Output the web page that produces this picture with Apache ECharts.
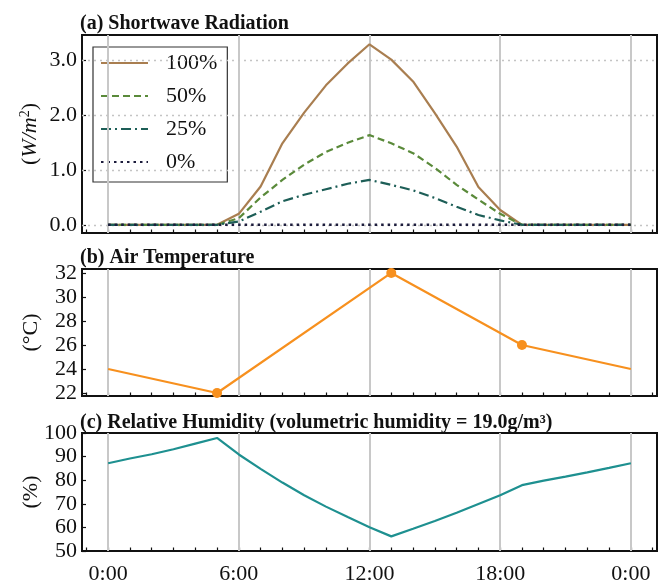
<!DOCTYPE html>
<html>
<head>
<meta charset="utf-8">
<script src="https://cdn.jsdelivr.net/npm/echarts@6/dist/echarts.min.js"></script>
<style>
  html, body { margin: 0; padding: 0; background: #fff; }
  #chart { width: 659px; height: 585px; }
</style>
</head>
<body>
<div id="chart"></div>
<script>
// 数据
const hours = [0, 1, 2, 3, 4, 5, 6, 7, 8, 9, 10, 11, 12, 13, 14, 15, 16, 17, 18, 19, 20, 21, 22, 23, 24];
const rad100 = [0, 0, 0, 0, 0, 0, 0.2, 0.7, 1.49, 2.05, 2.55, 2.95, 3.3, 3.02, 2.62, 2.04, 1.43, 0.69, 0.27, 0, 0, 0, 0, 0, 0];
const rad50 = [0, 0, 0, 0, 0, 0, 0.12, 0.5, 0.82, 1.1, 1.33, 1.5, 1.64, 1.49, 1.31, 1.04, 0.73, 0.46, 0.2, 0, 0, 0, 0, 0, 0];
const rad25 = [0, 0, 0, 0, 0, 0, 0.06, 0.24, 0.43, 0.55, 0.65, 0.75, 0.82, 0.73, 0.63, 0.49, 0.33, 0.18, 0.08, 0, 0, 0, 0, 0, 0];
const rad0 = [0, 0, 0, 0, 0, 0, 0, 0, 0, 0, 0, 0, 0, 0, 0, 0, 0, 0, 0, 0, 0, 0, 0, 0, 0];
const tempHours = [0, 5, 13, 19, 24];
const tempValues = [24, 22, 32, 26, 24];
const rhValues = [87.2, 89.2, 91.0, 93.1, 95.5, 97.9, 90.9, 84.8, 79.0, 73.6, 68.8, 64.4, 60.1, 56.2, 59.4, 62.7, 66.2, 69.9, 73.6, 77.9, 79.8, 81.5, 83.3, 85.2, 87.2];

const xTickValues = [0, 6, 12, 18, 24];
const xTickLabels = ['0:00', '6:00', '12:00', '18:00', '0:00'];
const xMinorTicks = [-1, 0, 1, 2, 3, 4, 5, 6, 7, 8, 9, 10, 11, 12, 13, 14, 15, 16, 17, 18, 19, 20, 21, 22, 23, 24, 25];
const radTicks = [0, 1, 2, 3];
const tempTicks = [22, 24, 26, 28, 30, 32];
const rhTicks = [50, 60, 70, 80, 90, 100];

const serif = "'Liberation Serif', 'DejaVu Serif', serif";
const black = '#111';

const pairs = (xs, ys) => xs.map((x, i) => [x, ys[i]]);

const chart = echarts.init(document.getElementById('chart'));

const grids = [
    { left: 82, top: 35, width: 575, height: 198 },
    { left: 82, top: 269, width: 575, height: 127 },
    { left: 82, top: 433, width: 575, height: 131 }
].map(g => Object.assign(g, { show: true, borderColor: black, borderWidth: 2, backgroundColor: '#fff' }));

const xAxes = [];
[0, 1, 2].forEach(i => {
    // 主刻度
    xAxes.push({
        gridIndex: i, type: 'value', position: 'bottom', min: -1.2, max: 25.2,
        axisLine: { show: false, onZero: false }, splitLine: { show: false },
        axisTick: { show: true, inside: true, length: 6, customValues: xTickValues, lineStyle: { color: black, width: 1.5 } },
        axisLabel: {
            show: i === 2, customValues: xTickValues, margin: 12,
            fontFamily: serif, fontSize: 22, color: black,
            formatter: v => xTickLabels[xTickValues.indexOf(v)]
        }
    });
    // 次刻度
    xAxes.push({
        gridIndex: i, type: 'value', position: 'bottom', min: -1.2, max: 25.2,
        axisLine: { show: false, onZero: false }, splitLine: { show: false },
        axisTick: { show: true, inside: true, length: 3.5, customValues: xMinorTicks, lineStyle: { color: black, width: 1.2 } },
        axisLabel: { show: false }
    });
});

const yName = (name, gap) => ({
    name: name, nameLocation: 'middle', nameRotate: 90, nameGap: gap, nameMoveOverlap: false,
    nameTextStyle: {
        fontFamily: serif, fontSize: 22, color: black,
        rich: {
            i: { fontFamily: serif, fontSize: 22, fontStyle: 'italic', color: black },
            s: { fontFamily: serif, fontSize: 14, color: black, padding: [0, 0, 10, 0] }
        }
    }
});

const yCommon = (ticks, fmt) => ({
    type: 'value', position: 'left', axisLine: { show: false, onZero: false }, splitLine: { show: false },
    axisTick: { show: true, inside: true, length: 4, customValues: ticks, lineStyle: { color: black, width: 1.2 } },
    axisLabel: { customValues: ticks, margin: 5, fontFamily: serif, fontSize: 22, color: black, formatter: fmt }
});

const yAxes = [
    Object.assign({ gridIndex: 0, min: -0.15, max: 3.47 }, yCommon(radTicks, v => v.toFixed(1)), yName('({i|W/m}{s|2})', 40)),
    Object.assign({ gridIndex: 1, min: 21.75, max: 32.33 }, yCommon(tempTicks, v => String(v)), yName('(°C)', 40)),
    Object.assign({ gridIndex: 2, min: 50, max: 100 }, yCommon(rhTicks, v => String(v)), yName('(%)', 40))
];

// 网格线（竖线 + 上图虚点横线）
const vLines = i => ({
    type: 'line', xAxisIndex: i * 2, yAxisIndex: i, data: [], silent: true,
    markLine: {
        silent: true, symbol: 'none', animation: false, label: { show: false },
        lineStyle: { color: '#c8c8c8', width: 2, type: 'solid' },
        data: xTickValues.map(v => ({ xAxis: v }))
    }
});

const series = [
    vLines(0), vLines(1), vLines(2),
    {
        type: 'line', xAxisIndex: 0, yAxisIndex: 0, data: [], silent: true,
        markLine: {
            silent: true, symbol: 'none', animation: false, label: { show: false },
            lineStyle: { color: '#c4c4c4', width: 1.3, type: [2, 4] },
            data: radTicks.map(v => ({ yAxis: v }))
        }
    },
    {
        name: '100%', type: 'line', xAxisIndex: 0, yAxisIndex: 0, z: 10, symbol: 'none',
        data: pairs(hours, rad100), lineStyle: { color: '#a97e50', width: 2.2 }, itemStyle: { color: '#a97e50' }
    },
    {
        name: '50%', type: 'line', xAxisIndex: 0, yAxisIndex: 0, z: 10, symbol: 'none',
        data: pairs(hours, rad50), lineStyle: { color: '#5a8a3a', width: 2.2, type: [7, 4] }, itemStyle: { color: '#5a8a3a' }
    },
    {
        name: '25%', type: 'line', xAxisIndex: 0, yAxisIndex: 0, z: 10, symbol: 'none',
        data: pairs(hours, rad25), lineStyle: { color: '#1d5e57', width: 2.2, type: [10, 4, 2, 4] }, itemStyle: { color: '#1d5e57' }
    },
    {
        name: '0%', type: 'line', xAxisIndex: 0, yAxisIndex: 0, z: 10, symbol: 'none',
        data: pairs(hours, rad0), lineStyle: { color: '#1c1c3c', width: 2.5, type: [2.5, 4] }, itemStyle: { color: '#1c1c3c' }
    },
    {
        name: 'temp', type: 'line', xAxisIndex: 2, yAxisIndex: 1, z: 10, symbol: 'circle', symbolSize: 10,
        lineStyle: { color: '#f7901e', width: 2.2 }, itemStyle: { color: '#f7901e' },
        data: tempHours.map((h, i) => (i === 0 || i === tempHours.length - 1)
            ? { value: [h, tempValues[i]], symbol: 'none' }
            : { value: [h, tempValues[i]] })
    },
    {
        name: 'rh', type: 'line', xAxisIndex: 4, yAxisIndex: 2, z: 10, symbol: 'none',
        data: pairs(hours, rhValues), lineStyle: { color: '#1e9090', width: 2.2 }
    }
];

const titleStyle = { fontFamily: serif, fontSize: 20, fontWeight: 'bold', color: black };

chart.setOption({
    animation: false,
    backgroundColor: '#fff',
    title: [
        { text: '(a) Shortwave Radiation', left: 80, top: 14, padding: 0, textStyle: titleStyle },
        { text: '(b) Air Temperature', left: 80, top: 248, padding: 0, textStyle: titleStyle },
        { text: '(c) Relative Humidity (volumetric humidity = 19.0g/m³)', left: 80, top: 413, padding: 0, textStyle: titleStyle }
    ],
    legend: {
        data: ['100%', '50%', '25%', '0%'],
        orient: 'vertical', left: 93, top: 47,
        padding: [5, 10, 9, 7], itemGap: 11, itemWidth: 47, itemHeight: 14,
        itemStyle: { opacity: 0 },
        backgroundColor: '#fff', borderColor: '#333', borderWidth: 1.2, borderRadius: 0,
        textStyle: { fontFamily: serif, fontSize: 22, color: black, padding: [0, 0, 0, 13] }
    },
    grid: grids,
    xAxis: xAxes,
    yAxis: yAxes,
    series: series
});
</script>
</body>
</html>
